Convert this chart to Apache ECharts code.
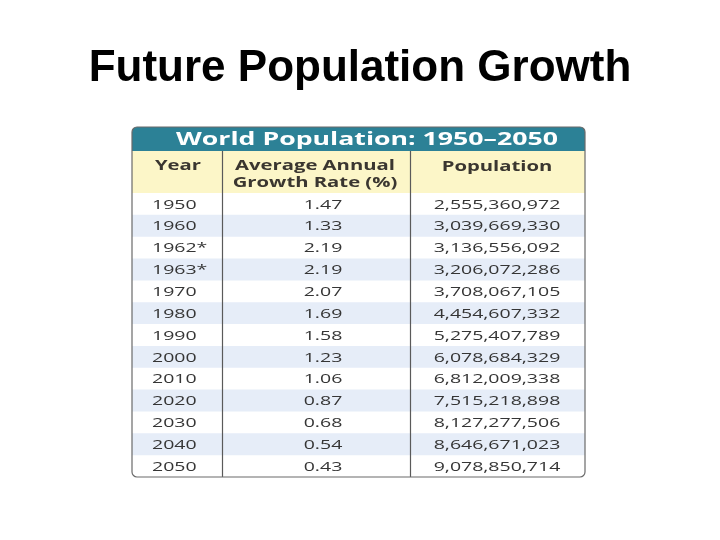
<!DOCTYPE html>
<html><head><meta charset="utf-8">
<script src="https://cdn.jsdelivr.net/npm/echarts@6/dist/echarts.min.js"></script>
<style>html,body{margin:0;padding:0;background:#fff}#c{width:720px;height:540px}</style>
</head><body><div id="c"></div>
<script>
const slideTitle = 'Future Population Growth';
const tableTitle = 'World Population: 1950\u20132050';
const headerYear = 'Year';
const headerRate = 'Average Annual\nGrowth Rate (%)';
const headerPop = 'Population';
const years = ['1950','1960','1962*','1963*','1970','1980','1990','2000','2010','2020','2030','2040','2050'];
const growthRates = [1.47,1.33,2.19,2.19,2.07,1.69,1.58,1.23,1.06,0.87,0.68,0.54,0.43];
const populations = [2555360972,3039669330,3136556092,3206072286,3708067105,4454607332,5275407789,6078684329,6812009338,7515218898,8127277506,8646671023,9078850714];

const SX = 1.5;
const TEXT_COLOR = '#353535';
const HEAD_COLOR = '#3a3630';
const L = 132, R = 585, TOP = 127, TITLE_H = 24, HEAD_H = 42, BODY_TOP = 193, BOTTOM = 477;
const W = R - L;

function fmt(n){ return String(n).replace(/\B(?=(\d{3})+(?!\d))/g, ','); }
function txt(text, x, y, align, size, weight, fill, extra){
  return Object.assign({type:'text', x:x, y:y, scaleX:SX, originX:0, originY:0,
    style:{text:text, textAlign:align, textVerticalAlign:'middle', fontSize:size, fontWeight:weight,
      fontFamily:'Open Sans', fill:fill}}, extra||{});
}

const chart = echarts.init(document.getElementById('c'), null, {renderer:'canvas'});
const header = txt(headerRate, 315, 175, 'center', 13.5, 'bold', HEAD_COLOR, {z:10});
header.style.lineHeight = 17;
chart.setOption({
  animation:false,
  backgroundColor:'#ffffff',
  grid:{left:L, top:BODY_TOP, width:W, height:BOTTOM-BODY_TOP, containLabel:false, show:false},
  xAxis:{type:'value', min:0, max:W, show:false},
  yAxis:{type:'category', data:years, inverse:true, show:false},
  series:[{
    type:'custom',
    coordinateSystem:'cartesian2d',
    encode:{x:0, y:1},
    data: years.map((y,i)=>[0, i, growthRates[i], populations[i]]),
    renderItem:function(params, api){
      const i = params.dataIndex;
      const cs = params.coordSys;
      const c = api.coord([0, i]);
      const bh = api.size([0, 1])[1];
      const children = [];
      if (i % 2 === 1) {
        children.push({type:'rect', shape:{x:cs.x, y:c[1]-bh/2, width:cs.width, height:bh}, style:{fill:'#e6edf8'}});
      }
      const cy = c[1] + 1;
      children.push(txt(years[i], api.coord([20, i])[0], cy, 'left', 13, 500, TEXT_COLOR));
      children.push(txt(growthRates[i].toFixed(2), api.coord([191, i])[0], cy, 'center', 13, 500, TEXT_COLOR));
      children.push(txt(fmt(populations[i]), api.coord([365, i])[0], cy, 'center', 13, 500, TEXT_COLOR));
      return {type:'group', children:children};
    }
  }],
  graphic:[
    {type:'text', x:360, y:69, z:10, style:{text:slideTitle, textAlign:'center', textVerticalAlign:'middle',
      fontSize:44, fontWeight:'bold', fontFamily:'Liberation Sans', fill:'#000000'}},
    {type:'rect', z:0, shape:{x:L, y:TOP, width:W, height:TITLE_H+2, r:[5,5,0,0]}, style:{fill:'#2c8196'}},
    {type:'rect', z:0, shape:{x:L, y:TOP+TITLE_H, width:W, height:HEAD_H}, style:{fill:'#fcf6c8'}},
    txt(tableTitle, 367, TOP+TITLE_H/2+1, 'center', 17.8, 'bold', '#ffffff', {z:10}),
    txt(headerYear, 178, 166, 'center', 13.5, 'bold', HEAD_COLOR, {z:10}),
    header,
    txt(headerPop, 497, 167, 'center', 13.5, 'bold', HEAD_COLOR, {z:10}),
    {type:'line', z:100, shape:{x1:222.5, y1:TOP+TITLE_H, x2:222.5, y2:BOTTOM}, style:{stroke:'#5a5a5a', lineWidth:1.2}},
    {type:'line', z:100, shape:{x1:410.5, y1:TOP+TITLE_H, x2:410.5, y2:BOTTOM}, style:{stroke:'#5a5a5a', lineWidth:1.2}},
    {type:'rect', z:100, shape:{x:L, y:TOP, width:W, height:BOTTOM-TOP, r:5}, style:{fill:null, stroke:'#6a6a6a', lineWidth:1.2}}
  ]
});
</script></body></html>
